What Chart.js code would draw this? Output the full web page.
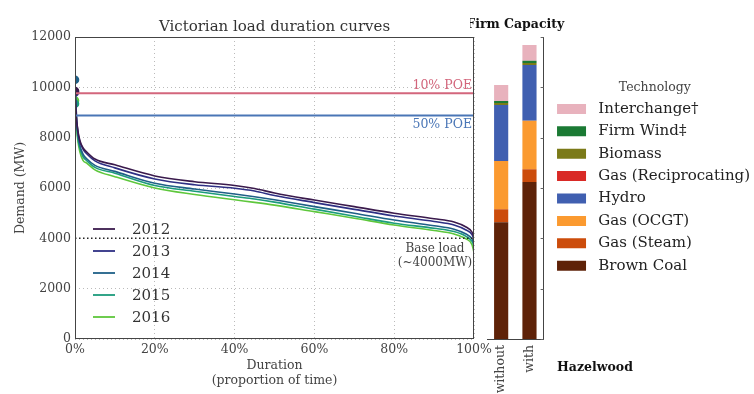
<!DOCTYPE html>
<html>
<head>
<meta charset="utf-8">
<script src="https://cdn.jsdelivr.net/npm/chart.js@4"></script>
<style>
  body { margin: 0; background: #fff; }
  #wrap { position: relative; width: 754px; height: 394px; }
  canvas { position: absolute; top: 0; }
</style>
</head>
<body>
<div id="wrap">
  <canvas id="loadChart" width="500" height="394" style="left:0"></canvas>
  <canvas id="capChart" width="284" height="394" style="left:470px"></canvas>
</div>
<script>
// load duration curves (x = % of time, y = MW)
const durationPct = [0, 0.3, 0.7, 1.2, 2, 3, 5, 10, 20, 30, 40, 45, 50, 60, 70, 80, 90, 95, 98, 99.5, 100];
const years = ['2012', '2013', '2014', '2015', '2016'];
const demand2012 = [9850, 8900, 8300, 7900, 7600, 7420, 7150, 6920, 6480, 6250, 6100, 5980, 5800, 5520, 5260, 5000, 4780, 4650, 4450, 4250, 4050];
const demand2013 = [9800, 8850, 8250, 7850, 7550, 7350, 7080, 6800, 6360, 6130, 5990, 5880, 5700, 5420, 5150, 4890, 4670, 4530, 4330, 4150, 3950];
const demand2014 = [10300, 9100, 8200, 7700, 7350, 7150, 6900, 6660, 6190, 5960, 5760, 5650, 5530, 5260, 5000, 4730, 4500, 4360, 4170, 3980, 3800];
const demand2015 = [9350, 8700, 8000, 7600, 7250, 7080, 6820, 6590, 6100, 5870, 5660, 5560, 5440, 5160, 4880, 4600, 4400, 4270, 4080, 3880, 3700];
const demand2016 = [9480, 8600, 7900, 7450, 7100, 6980, 6720, 6450, 6000, 5740, 5530, 5430, 5320, 5060, 4800, 4530, 4310, 4170, 3980, 3750, 3450];
const poe10 = 9760;
const poe50 = 8880;
const baseLoad = 4000;
const yTicks = [0, 2000, 4000, 6000, 8000, 10000, 12000];
const xTicks = [0, 20, 40, 60, 80, 100];

// firm capacity (MW), stacked bottom to top
const scenarios = ['without', 'with'];
const brownCoal = [4640, 6240];
const gasSteam = [515, 505];
const gasOCGT = [1920, 1930];
const hydro = [2225, 2210];
const gasRecip = [0, 0];
const biomass = [80, 80];
const firmWind = [80, 92];
const interchange = [636, 623];

Chart.defaults.font.family = '"DejaVu Serif", serif';
Chart.defaults.color = '#444';

const yearColors = ['#3a1a4c', '#2e2f84', '#1f6087', '#1c9b7c', '#5ec73c'];
const poe10Color = '#d3667c';
const poe50Color = '#4a76b6';

const yearSeries = [demand2012, demand2013, demand2014, demand2015, demand2016];

const curveSets = years.map((yr, i) => ({
  label: yr,
  data: durationPct.map((d, j) => ({ x: d, y: yearSeries[i][j] })),
  borderColor: yearColors[i],
  backgroundColor: yearColors[i],
  borderWidth: 1.6,
  cubicInterpolationMode: 'monotone',
  pointRadius: ctx => ctx.dataIndex === 0 ? 3.5 : 0,
  order: 1
}));

const flat = (v, color, width, dash) => ({
  label: '',
  data: [{ x: 0, y: v }, { x: 100, y: v }],
  borderColor: color,
  borderWidth: width,
  borderDash: dash,
  pointRadius: 0,
  order: 0
});

const loadExtras = {
  id: 'loadExtras',
  afterDraw(chart) {
    const { ctx, chartArea: a, scales: { y } } = chart;
    ctx.save();
    ctx.strokeStyle = '#444';
    ctx.lineWidth = 1;
    ctx.strokeRect(a.left + 0.5, a.top + 0.5, a.right - a.left - 1, a.bottom - a.top - 1);

    ctx.font = '12.5px "DejaVu Serif"';
    ctx.textBaseline = 'middle';
    ctx.textAlign = 'right';
    ctx.fillStyle = poe10Color;
    ctx.fillText('10% POE', a.right - 2, y.getPixelForValue(poe10) - 8);
    ctx.fillStyle = poe50Color;
    ctx.fillText('50% POE', a.right - 2, y.getPixelForValue(poe50) + 9);
    ctx.fillStyle = '#444';
    ctx.textAlign = 'center';
    ctx.font = '12px "DejaVu Serif"';
    ctx.fillText('Base load', a.right - 39, y.getPixelForValue(baseLoad) + 11);
    ctx.fillText('(~4000MW)', a.right - 39, y.getPixelForValue(baseLoad) + 25);

    // legend for years
    ctx.font = '15px "DejaVu Serif"';
    ctx.textAlign = 'left';
    years.forEach((yr, i) => {
      const yy = 229 + i * 22;
      ctx.strokeStyle = yearColors[i];
      ctx.lineWidth = 1.8;
      ctx.beginPath();
      ctx.moveTo(a.left + 18, yy);
      ctx.lineTo(a.left + 40, yy);
      ctx.stroke();
      ctx.fillStyle = '#333';
      ctx.fillText(yr, a.left + 57, yy + 1);
    });
    ctx.restore();
  }
};

new Chart(document.getElementById('loadChart'), {
  type: 'line',
  data: {
    datasets: [
      flat(poe10, poe10Color, 2),
      flat(poe50, poe50Color, 2),
      flat(baseLoad, '#222', 1.5, [1.5, 2.5]),
      ...curveSets
    ]
  },
  options: {
    responsive: false,
    animation: false,
    layout: { padding: { left: 0, right: 26, top: 0, bottom: 0 } },
    plugins: {
      legend: { display: false },
      tooltip: { enabled: false },
      title: {
        display: true,
        fullSize: false,
        text: 'Victorian load duration curves',
        color: '#333',
        font: { size: 15, weight: 'normal' },
        padding: { top: 18, bottom: 1 }
      }
    },
    scales: {
      x: {
        type: 'linear',
        min: 0,
        max: 100,
        afterBuildTicks: s => { s.ticks = xTicks.map(v => ({ value: v })); },
        afterFit: s => { s.height = 55; },
        ticks: { callback: v => v + '%', font: { size: 12.5 }, padding: 3, maxRotation: 0 },
        grid: { color: '#bbb', drawTicks: false },
        border: { display: false, dash: [1, 3] },
        title: {
          display: true,
          text: ['Duration', '(proportion of time)'],
          font: { size: 12.5 },
          padding: { top: 0, bottom: 6 }
        }
      },
      y: {
        min: 0,
        max: 12000,
        afterBuildTicks: s => { s.ticks = yTicks.map(v => ({ value: v })); },
        afterFit: s => { s.width = 75; },
        ticks: { callback: v => String(v), font: { size: 12.5 }, padding: 4 },
        grid: { color: '#bbb', drawTicks: false },
        border: { display: false, dash: [1, 3] },
        title: {
          display: true,
          text: 'Demand (MW)',
          font: { size: 12.5 },
          padding: { top: 13, bottom: 0 }
        }
      }
    }
  },
  plugins: [loadExtras]
});

const techColors = {
  'Brown Coal': '#5e2208',
  'Gas (Steam)': '#cc4c0b',
  'Gas (OCGT)': '#fb9a30',
  'Hydro': '#405fb0',
  'Gas (Reciprocating)': '#d92a26',
  'Biomass': '#7b7a18',
  'Firm Wind‡': '#1b7a34',
  'Interchange†': '#e8b2bd'
};
const techSeries = [
  ['Brown Coal', brownCoal],
  ['Gas (Steam)', gasSteam],
  ['Gas (OCGT)', gasOCGT],
  ['Hydro', hydro],
  ['Gas (Reciprocating)', gasRecip],
  ['Biomass', biomass],
  ['Firm Wind‡', firmWind],
  ['Interchange†', interchange]
];

const capExtras = {
  id: 'capExtras',
  afterDraw(chart) {
    const { ctx, chartArea: a, scales: { y } } = chart;
    ctx.save();
    // small inward ticks on the right spine
    ctx.strokeStyle = '#666';
    ctx.lineWidth = 1;
    yTicks.forEach(v => {
      const py = Math.round(y.getPixelForValue(v)) + 0.5;
      ctx.beginPath();
      ctx.moveTo(a.right - 3, py);
      ctx.lineTo(a.right, py);
      ctx.stroke();
    });
    ctx.fillStyle = '#111';
    ctx.font = 'bold 12.5px "DejaVu Serif"';
    ctx.textBaseline = 'middle';
    ctx.textAlign = 'center';
    ctx.fillText('Firm Capacity', (a.left + a.right) / 2, 25);
    ctx.textAlign = 'left';
    ctx.fillText('Hazelwood', 87, 368);
    ctx.restore();
  }
};

new Chart(document.getElementById('capChart'), {
  type: 'bar',
  data: {
    labels: scenarios,
    datasets: techSeries.map(([name, vals]) => ({
      label: name,
      data: vals,
      backgroundColor: techColors[name],
      borderWidth: 0,
      categoryPercentage: 1,
      barPercentage: 0.5
    }))
  },
  options: {
    responsive: false,
    animation: false,
    layout: { padding: { left: 17, right: -6, top: 37, bottom: 0 } },
    plugins: {
      tooltip: { enabled: false },
      legend: {
        position: 'right',
        align: 'start',
        reverse: true,
        maxWidth: 260,
        title: {
          display: true,
          text: 'Technology',
          color: '#444',
          font: { size: 12.5 },
          padding: { top: 44, bottom: -2 }
        },
        labels: {
          boxWidth: 29,
          boxHeight: 10,
          padding: 7.4,
          color: '#222',
          font: { size: 15 },
          generateLabels: chart => Chart.defaults.plugins.legend.labels.generateLabels(chart)
            .map(l => Object.assign(l, { text: ' ' + l.text }))
        }
      }
    },
    scales: {
      x: {
        stacked: true,
        afterFit: s => { s.height = 55; },
        ticks: { minRotation: 90, maxRotation: 90, autoSkip: false, padding: 6, font: { size: 12.5 }, color: '#444' },
        grid: { display: false, drawTicks: false },
        border: { display: true, color: '#444' }
      },
      y: {
        stacked: true,
        position: 'right',
        min: 0,
        max: 12000,
        afterFit: s => { s.width = 6; },
        ticks: { display: false },
        grid: { display: false },
        border: { display: true, color: '#444' }
      }
    }
  },
  plugins: [capExtras]
});
</script>
</body>
</html>
